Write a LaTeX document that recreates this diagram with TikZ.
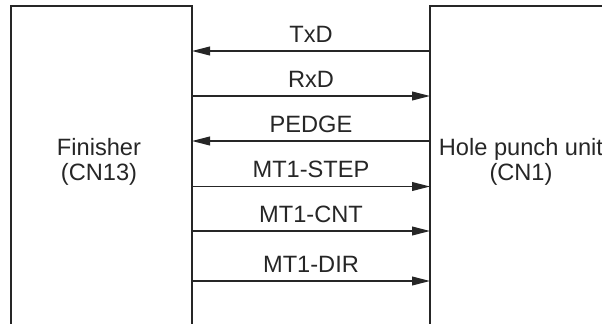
\documentclass[tikz,border=0pt]{standalone}
\usepackage{fontspec}
\setmainfont{Liberation Sans}
\usepackage{tikz}
\usetikzlibrary{arrows.meta}
\tikzstyle{unit}=[draw=black!85, line width=1pt]
\tikzstyle{to}=[-{Triangle[length=0.45cm,width=0.22cm]},draw=black!85,line width=1pt]
\tikzstyle{sig}=[above=0.19cm, inner sep=0pt, text=black!85, font=\fontsize{16.8}{18}\selectfont]
\tikzstyle{unitname}=[align=center, inner sep=0pt, text=black!85, font=\fontsize{16.8}{17.8}\selectfont]

\begin{document}
\begin{tikzpicture}[x=0.025cm, y=-0.025cm]
        \useasboundingbox (0,0) rectangle (602,323);
        % the two units
        \draw[unit] (11,330) -- (11,6) -- (192,6) -- (192,330);
        \draw[unit] (610,6) -- (430,6) -- (430,330);
        \node[unitname] (fin) at (99,162) {Finisher\\(CN13)};
        \node[unitname] (hpu) at (521,162) {Hole punch unit\\(CN1)};
        % ends of the lines on the finisher side
        \coordinate (f1) at (192,51);
        \coordinate (f2) at (192,96);
        \coordinate (f3) at (192,141);
        \coordinate (f4) at (192,186.5);
        \coordinate (f5) at (192,231);
        \coordinate (f6) at (192,281);
        % ends of the lines on the hole punch side
        \coordinate (h1) at (430,51);
        \coordinate (h2) at (430,96);
        \coordinate (h3) at (430,141);
        \coordinate (h4) at (430,186.5);
        \coordinate (h5) at (430,231);
        \coordinate (h6) at (430,281);
        % signals
        \draw[to] (h1) -- node[sig] {TxD} (f1);
        \draw[to] (f2) -- node[sig] {RxD} (h2);
        \draw[to] (h3) -- node[sig] {PEDGE} (f3);
        \draw[to] (f4) -- node[sig] {MT1-STEP} (h4);
        \draw[to] (f5) -- node[sig] {MT1-CNT} (h5);
        \draw[to] (f6) -- node[sig] {MT1-DIR} (h6);
\end{tikzpicture}
\end{document}
